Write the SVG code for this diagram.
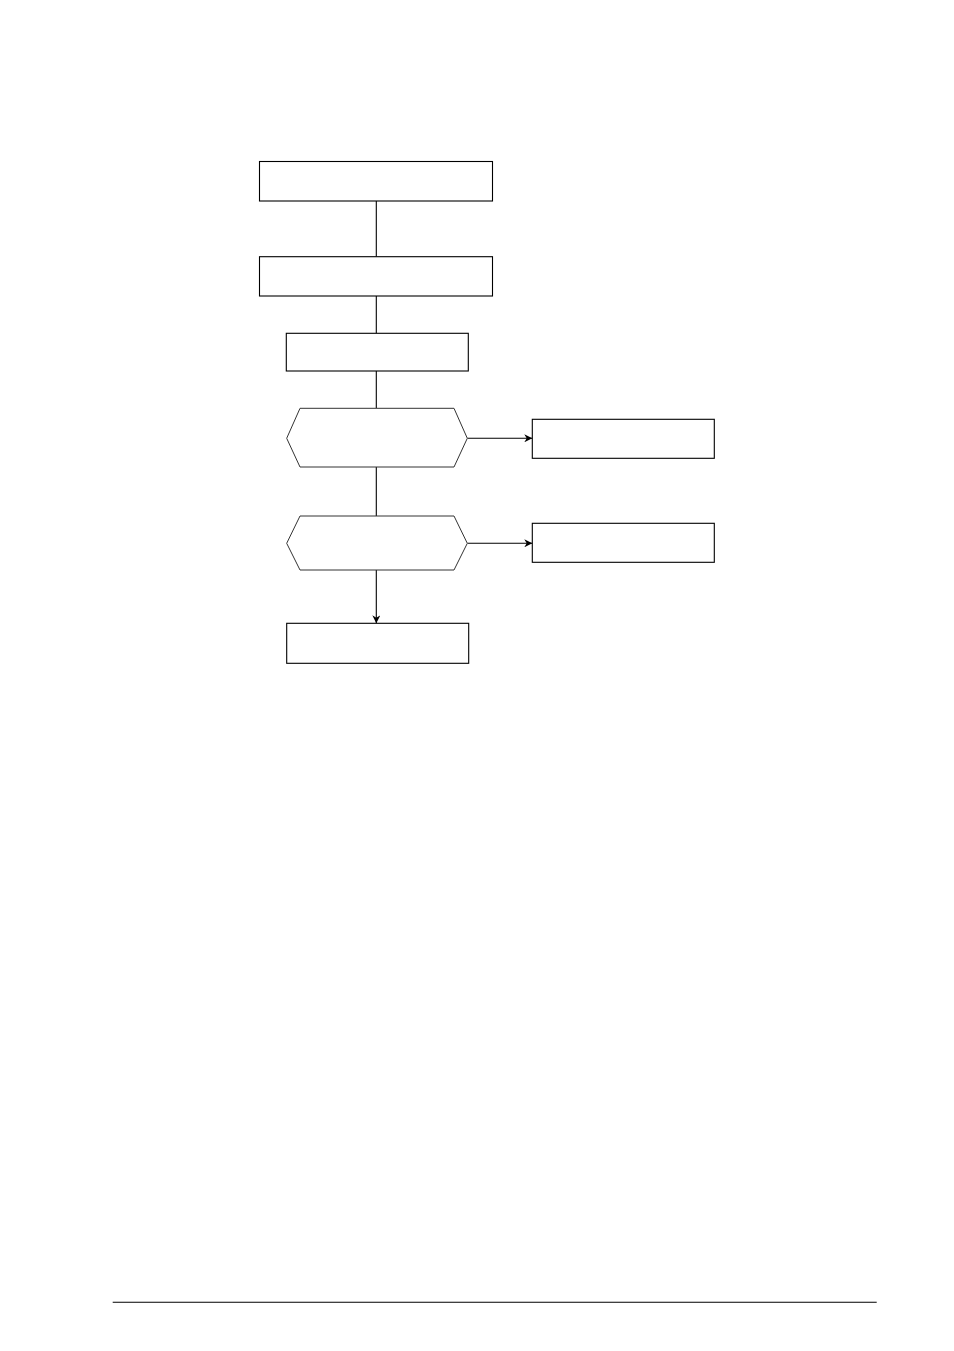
<svg xmlns="http://www.w3.org/2000/svg" width="954" height="1351" viewBox="0 0 954 1351">
<style>
.box{fill:#fff;stroke:#000;stroke-width:1.1}
.hex{fill:#fff;stroke:#333;stroke-width:1}
.ln{fill:none;stroke:#000;stroke-width:1.1}
</style>
<defs>
<marker id="arr" viewBox="0 0 10 10" refX="10" refY="5" markerWidth="10" markerHeight="8" markerUnits="userSpaceOnUse" orient="auto">
<path d="M0,0 L10,5 L0,10 L3,5 Z" fill="#000"/>
</marker>
</defs>
<rect width="954" height="1351" fill="#fff"/>
<g id="connectors">
<line class="ln" x1="376.3" y1="201" x2="376.3" y2="256.7"/>
<line class="ln" x1="376.3" y1="296" x2="376.3" y2="333.3"/>
<line class="ln" x1="376.3" y1="371" x2="376.3" y2="408.3"/>
<line class="ln" x1="376.3" y1="467" x2="376.3" y2="516"/>
<line class="ln" x1="467.3" y1="438.3" x2="532.3" y2="438.3" marker-end="url(#arr)"/>
<line class="ln" x1="467.3" y1="543.3" x2="532.3" y2="543.3" marker-end="url(#arr)"/>
<line class="ln" x1="376.3" y1="570" x2="376.3" y2="623.3" marker-end="url(#arr)"/>
</g>
<g id="n1"><rect class="box" x="259.5" y="161.5" width="233" height="39.5"/></g>
<g id="n2"><rect class="box" x="259.5" y="256.7" width="233" height="39.3"/></g>
<g id="n3"><rect class="box" x="286.3" y="333.3" width="182" height="37.7"/></g>
<g id="d1"><polygon class="hex" points="300,408.3 454,408.3 467.3,438.3 454,467 300,467 286.7,438.3"/></g>
<g id="r1"><rect class="box" x="532.3" y="419.3" width="182" height="39"/></g>
<g id="d2"><polygon class="hex" points="300,516 454,516 467.3,543.3 454,570 300,570 286.7,543.3"/></g>
<g id="r2"><rect class="box" x="532.3" y="523.3" width="182" height="39"/></g>
<g id="n4"><rect class="box" x="286.7" y="623.3" width="182" height="40"/></g>
<line class="ln" x1="112.7" y1="1302.3" x2="876.7" y2="1302.3"/>
</svg>
